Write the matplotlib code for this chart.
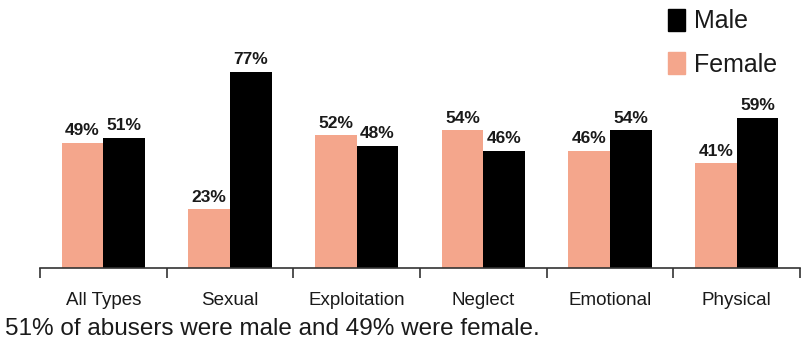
import matplotlib
matplotlib.use("Agg")
import matplotlib.pyplot as plt
import numpy as np
from matplotlib.patches import Patch

categories = ["All Types", "Sexual", "Exploitation", "Neglect", "Emotional", "Physical"]
female = [49, 23, 52, 54, 46, 41]
male = [51, 77, 48, 46, 54, 59]
caption = "51% of abusers were male and 49% were female."

plt.rcParams["font.family"] = ["Liberation Sans", "DejaVu Sans"]

FEMALE_C = "#F4A68C"
MALE_C = "#000000"
TEXT_C = "#1a1a1a"

W, H = 806, 349
fig = plt.figure(figsize=(W / 100, H / 100), dpi=100)
ax = fig.add_axes([40 / W, (H - 268) / H, (800 - 40) / W, 255 / H])

x = np.arange(len(categories))
bw = 0.33
ax.bar(x - bw / 2, female, bw, color=FEMALE_C, label="Female")
ax.bar(x + bw / 2, male, bw, color=MALE_C, label="Male")

for xi, f, m in zip(x, female, male):
    ax.text(xi - bw / 2, f + 1.8, f"{f}%", ha="center", va="bottom",
            fontsize=12.5, fontweight="bold", color=TEXT_C)
    ax.text(xi + bw / 2, m + 1.8, f"{m}%", ha="center", va="bottom",
            fontsize=12.5, fontweight="bold", color=TEXT_C)

ax.set_xlim(-0.5, len(categories) - 0.5)
ax.set_ylim(0, 100)
for s in ["top", "right", "left"]:
    ax.spines[s].set_visible(False)
ax.spines["bottom"].set_color("#333333")
ax.spines["bottom"].set_linewidth(1.2)
ax.set_yticks([])
ax.set_xticks(np.arange(len(categories) + 1) - 0.5, minor=False)
ax.set_xticklabels([])
ax.tick_params(axis="x", which="major", length=7, width=1.2, color="#333333", direction="out")
ax.set_xticks(x, minor=True)
ax.set_xticklabels(categories, minor=True, fontsize=13.5, color=TEXT_C)
ax.tick_params(axis="x", which="minor", length=0, pad=17)

handles = [Patch(color=MALE_C, label="Male"), Patch(color=FEMALE_C, label="Female")]
fig.legend(handles=handles, loc="upper left", bbox_to_anchor=(645 / W, 1.04),
           frameon=False, fontsize=18, handlelength=0.7, handleheight=1.0,
           handletextpad=0.35, labelspacing=0.75, labelcolor=TEXT_C)

fig.text(5 / W, (H - 329) / H, caption, fontsize=17.5, color=TEXT_C, va="center")

fig.savefig("out.png", dpi=100)
